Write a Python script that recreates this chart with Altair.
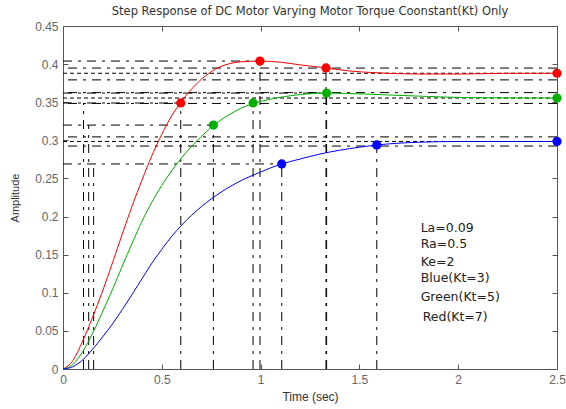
import altair as alt
import pandas as pd

# ---------------- data ----------------
red_t = [0, 0.05, 0.1, 0.15, 0.2, 0.25, 0.3, 0.35, 0.4, 0.45, 0.5, 0.55, 0.6, 0.65, 0.7, 0.75,
         0.8, 0.85, 0.9, 1.0, 1.1, 1.2, 1.33, 1.45, 1.6, 1.8, 2.0, 2.27, 2.5]
red_y = [0, 0.011, 0.037, 0.068, 0.102, 0.139, 0.177, 0.214, 0.248, 0.280, 0.308, 0.332, 0.351,
         0.367, 0.380, 0.390, 0.397, 0.401, 0.403, 0.404, 0.4025, 0.399, 0.395, 0.391, 0.3885,
         0.387, 0.387, 0.388, 0.388]

green_t = [0, 0.05, 0.1, 0.15, 0.2, 0.25, 0.3, 0.35, 0.4, 0.45, 0.5, 0.55, 0.6, 0.65, 0.7,
           0.75, 0.8, 0.85, 0.9, 0.95, 1.0, 1.05, 1.1, 1.15, 1.2, 1.334, 1.55, 1.8, 2.06, 2.5]
green_y = [0, 0.006, 0.023, 0.047, 0.075, 0.104, 0.135, 0.165, 0.194, 0.219, 0.241, 0.260,
           0.277, 0.292, 0.305, 0.317, 0.327, 0.335, 0.342, 0.347, 0.351, 0.354, 0.3565,
           0.3585, 0.360, 0.362, 0.3605, 0.358, 0.356, 0.3555]

blue_t = [0, 0.05, 0.1, 0.15, 0.2, 0.25, 0.3, 0.35, 0.4, 0.45, 0.5, 0.55, 0.6, 0.65, 0.7, 0.75,
          0.8, 0.85, 0.9, 0.95, 1.0, 1.1, 1.2, 1.3, 1.4, 1.5, 1.6, 1.8, 2.0, 2.5]
blue_y = [0, 0.003, 0.012, 0.026, 0.042, 0.059, 0.078, 0.098, 0.1185, 0.139, 0.157, 0.174,
          0.1885, 0.2015, 0.213, 0.223, 0.232, 0.240, 0.247, 0.253, 0.2585, 0.2685, 0.2755,
          0.282, 0.287, 0.291, 0.2942, 0.2975, 0.2985, 0.2985]

# characteristic markers (rise time, peak, settling, final value)
mark_series = ["Red", "Red", "Red", "Red", "Green", "Green", "Green", "Green", "Blue", "Blue", "Blue"]
mark_t = [0.596, 0.997, 1.331, 2.5, 0.761, 0.962, 1.334, 2.5, 1.107, 1.588, 2.5]
mark_y = [0.349, 0.404, 0.395, 0.388, 0.320, 0.349, 0.362, 0.3555, 0.269, 0.294, 0.2985]

# vertical dash-dot guides from the time axis up to a level
vline_t = [0.104, 0.130, 0.155, 0.596, 0.761, 1.107, 0.997, 1.334, 1.331, 0.962, 1.588]
vline_top = [0.349, 0.320, 0.269, 0.349, 0.320, 0.269, 0.404, 0.362, 0.395, 0.349, 0.294]

# horizontal dash-dot guides from the amplitude axis to a time
hline_y = [0.349, 0.320, 0.269, 0.404, 0.362]
hline_end = [0.596, 0.761, 1.107, 0.997, 1.334]

# full-width settling bands (dash-dot) and final values (dotted)
band_y = [0.3948, 0.3793, 0.3626, 0.3484, 0.3045, 0.2925]
final_y = [0.388, 0.3555, 0.2985]

x_ticks = [0, 0.5, 1, 1.5, 2, 2.5]
y_ticks = [0, 0.05, 0.1, 0.15, 0.2, 0.25, 0.3, 0.35, 0.4, 0.45]

ann_text = ["La=0.09", "Ra=0.5", "Ke=2", "Blue(Kt=3)", "Green(Kt=5)", "Red(Kt=7)"]
ann_x = [1.81, 1.81, 1.81, 1.81, 1.81, 1.82]
ann_y = [0.1846, 0.1636, 0.1408, 0.1198, 0.0949, 0.0678]

title_text = "Step Response of DC Motor Varying Motor Torque Coonstant(Kt) Only"

# ---------------- tables ----------------
curves = pd.concat([
    pd.DataFrame({"t": red_t, "amp": red_y, "series": "Red"}),
    pd.DataFrame({"t": green_t, "amp": green_y, "series": "Green"}),
    pd.DataFrame({"t": blue_t, "amp": blue_y, "series": "Blue"}),
], ignore_index=True)
markers = pd.DataFrame({"t": mark_t, "amp": mark_y, "series": mark_series})
vlines = pd.DataFrame({"t": vline_t, "top": vline_top})
vlines["base"] = 0.0
hlines = pd.DataFrame({"amp": hline_y, "end": hline_end})
hlines["start"] = 0.0
bands = pd.DataFrame({"amp": band_y})
finals = pd.DataFrame({"amp": final_y})
ann = pd.DataFrame({"t": ann_x, "amp": ann_y, "label": ann_text})

xs = alt.Scale(domain=[0, 2.5], nice=False, zero=False)
ys = alt.Scale(domain=[0, 0.45], nice=False)
cs = alt.Scale(domain=["Blue", "Green", "Red"], range=["#0000ff", "#00b000", "#ff0000"])

LABEL_FONT = "Liberation Sans"

x_axis = alt.Axis(values=x_ticks, format="~g", title="Time (sec)", grid=False, domain=False,
                  offset=-5, tickSize=5, tickColor="#555", labelPadding=5, labelFlush=False,
                  labelFont=LABEL_FONT, labelFontSize=12, labelColor="#666",
                  titleFont=LABEL_FONT, titleFontSize=12, titleFontWeight="normal",
                  titleColor="#333", titlePadding=6)
y_axis = alt.Axis(values=y_ticks, format="~g", title="Amplitude", grid=False, domain=False,
                  offset=-5, tickSize=5, tickColor="#555", labelPadding=5, labelFlush=False,
                  labelFont=LABEL_FONT, labelFontSize=12, labelColor="#666",
                  titleFont=LABEL_FONT, titleFontSize=11, titleFontWeight="normal",
                  titleColor="#333", titlePadding=14)
x_axis_top = alt.Axis(values=x_ticks, orient="top", labels=False, title=None, grid=False,
                      domain=False, offset=-5, tickSize=5, tickColor="#555")
y_axis_right = alt.Axis(values=y_ticks, orient="right", labels=False, title=None, grid=False,
                        domain=False, offset=-5, tickSize=5, tickColor="#555")

DASHDOT = [9, 6, 3, 6]
DOTTED = [4, 3]

band_layer = alt.Chart(bands).mark_rule(color="#000", strokeWidth=1, strokeDash=DASHDOT).encode(
    y=alt.Y("amp:Q", scale=ys, axis=None))
final_layer = alt.Chart(finals).mark_rule(color="#000", strokeWidth=1, strokeDash=DOTTED).encode(
    y=alt.Y("amp:Q", scale=ys, axis=None))
vline_layer = alt.Chart(vlines).mark_rule(color="#000", strokeWidth=1, strokeDash=DASHDOT).encode(
    x=alt.X("t:Q", scale=xs, axis=None),
    y=alt.Y("base:Q", scale=ys, axis=None),
    y2="top:Q")
hline_layer = alt.Chart(hlines).mark_rule(color="#000", strokeWidth=1, strokeDash=DASHDOT).encode(
    y=alt.Y("amp:Q", scale=ys, axis=None),
    x=alt.X("start:Q", scale=xs, axis=None),
    x2="end:Q")

curve_layer = alt.Chart(curves).mark_line(strokeWidth=1, interpolate="monotone").encode(
    x=alt.X("t:Q", scale=xs, axis=x_axis),
    y=alt.Y("amp:Q", scale=ys, axis=y_axis),
    color=alt.Color("series:N", scale=cs, legend=None),
    detail="series:N")

marker_layer = alt.Chart(markers).mark_circle(size=85, opacity=1).encode(
    x=alt.X("t:Q", scale=xs, axis=x_axis_top),
    y=alt.Y("amp:Q", scale=ys, axis=y_axis_right),
    color=alt.Color("series:N", scale=cs, legend=None))

text_layer = alt.Chart(ann).mark_text(align="left", baseline="middle", font="DejaVu Sans",
                                      fontSize=12.5, color="#222").encode(
    x=alt.X("t:Q", scale=xs, axis=None),
    y=alt.Y("amp:Q", scale=ys, axis=None),
    text="label:N")

chart = alt.layer(
    band_layer, final_layer, vline_layer, hline_layer, curve_layer, marker_layer, text_layer
).resolve_axis(x="independent", y="independent").properties(
    width=494, height=343,
    padding={"left": 63, "top": 26, "right": 9, "bottom": 40},
    autosize=alt.AutoSizeParams(type="none"),
    title=alt.TitleParams(text=title_text, font="DejaVu Sans", fontSize=11.5,
                          fontWeight="normal", color="#333", offset=3, anchor="middle"),
    background="white",
).configure_view(stroke="#555", strokeWidth=1)

chart.save("out.html", embed_options={"renderer": "svg", "actions": False})
